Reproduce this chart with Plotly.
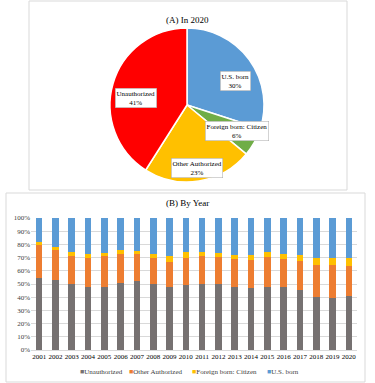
import plotly.graph_objects as go

W, H = 375, 383

pie_labels = ["U.S. born", "Foreign born: Citizen", "Other Authorized", "Unauthorized"]
pie_values = [30, 6, 23, 41]
pie_colors = ["#5B9BD5", "#70AD47", "#FFC000", "#FF0000"]

years = [str(y) for y in range(2001, 2021)]
unauthorized = [54.5, 53, 50, 47.5, 48, 50.5, 52.3, 50, 48, 49, 50, 50, 48, 47.2, 48, 47.5, 45.5, 40, 39.5, 41]
other_auth = [25, 22.5, 21.5, 22.5, 23, 22.5, 20.7, 20, 19, 21, 21.5, 20.5, 21, 21.2, 22.5, 21.5, 22, 24.5, 25, 23]
foreign_cit = [2, 2.5, 2.5, 2.5, 2.8, 2.5, 2, 2.7, 4.3, 4, 3, 3, 3.3, 3.3, 4, 4, 4.5, 5, 5, 6]
us_born = [round(100 - a - b - c, 1) for a, b, c in zip(unauthorized, other_auth, foreign_cit)]
y_ticks = [0, 10, 20, 30, 40, 50, 60, 70, 80, 90, 100]

FONT = "Liberation Serif"

def px(x):
    return x / W

def py(y):
    return (H - y) / H

fig = go.Figure()

fig.add_trace(go.Pie(
    labels=pie_labels, values=pie_values, sort=False, direction="clockwise", rotation=0,
    marker=dict(colors=pie_colors, line=dict(color="white", width=1.5)),
    textinfo="none", showlegend=False, hoverinfo="label+percent",
    domain=dict(x=[px(110), px(264)], y=[py(182), py(28)]),
))

bar_series = [
    ("Unauthorized", unauthorized, "#767171"),
    ("Other Authorized", other_auth, "#ED7D31"),
    ("Foreign born: Citizen", foreign_cit, "#FFC000"),
    ("U.S. born", us_born, "#5B9BD5"),
]
for name, vals, col in bar_series:
    fig.add_trace(go.Bar(
        x=years, y=vals, name=name, marker=dict(color=col, line=dict(width=0)),
        xaxis="x", yaxis="y", showlegend=False,
    ))

label_pos = [(235, 71), (237, 131), (197, 168), (136, 88)]
annotations = []
for (lx, ly), lab, v in zip(label_pos, pie_labels, pie_values):
    annotations.append(dict(
        x=px(lx), y=py(ly), xref="paper", yref="paper", showarrow=False,
        text=f"{lab}<br>{v}%", align="center",
        font=dict(family=FONT, size=7, color="#000"),
        bgcolor="white", bordercolor="#A6A6A6", borderwidth=0.5, borderpad=1,
    ))
annotations.append(dict(x=px(187), y=py(13), xref="paper", yref="paper", showarrow=False,
                        text="(A) In 2020", font=dict(family=FONT, size=9, color="#000")))
annotations.append(dict(x=px(187), y=py(203), xref="paper", yref="paper", showarrow=False,
                        text="(B) By Year", font=dict(family=FONT, size=9, color="#000")))

# manual legend (compact, like the reference)
legend_x = [78, 127, 190, 265]
for (name, vals, col), lx in zip(bar_series, legend_x):
    annotations.append(dict(
        x=px(lx), y=py(372), xref="paper", yref="paper", showarrow=False,
        xanchor="left", yanchor="middle",
        text=f"<span style='color:{col}'>■</span>{name}",
        font=dict(family=FONT, size=7, color="#404040"),
    ))

shapes = [
    dict(type="rect", xref="paper", yref="paper", x0=px(29), x1=px(347), y0=py(190), y1=py(1),
         line=dict(color="#D9D9D9", width=1)),
    dict(type="rect", xref="paper", yref="paper", x0=px(6), x1=px(365), y0=py(382), y1=py(193),
         line=dict(color="#D9D9D9", width=1)),
]

fig.update_layout(
    width=W, height=H, margin=dict(l=0, r=0, t=0, b=0, autoexpand=False),
    paper_bgcolor="white", plot_bgcolor="white",
    barmode="stack", bargap=0.6, showlegend=False,
    font=dict(family=FONT, size=7, color="#404040"),
    xaxis=dict(domain=[px(31), px(357)], showgrid=False, showline=True, linecolor="#D9D9D9",
               tickfont=dict(family=FONT, size=7, color="#000"), ticks="", tickangle=0,
               automargin=False),
    yaxis=dict(domain=[py(350), py(218)], range=[0, 100], tickvals=y_ticks,
               ticktext=[f"{t}%" for t in y_ticks], showgrid=True, gridcolor="#D9D9D9",
               gridwidth=1, zeroline=False, tickfont=dict(family=FONT, size=7, color="#404040"),
               ticks="", automargin=False),
    annotations=annotations, shapes=shapes,
)

fig.write_html("out.html", config={"displayModeBar": False},
               post_script="document.body.style.margin='0';document.body.style.overflow='hidden';")
